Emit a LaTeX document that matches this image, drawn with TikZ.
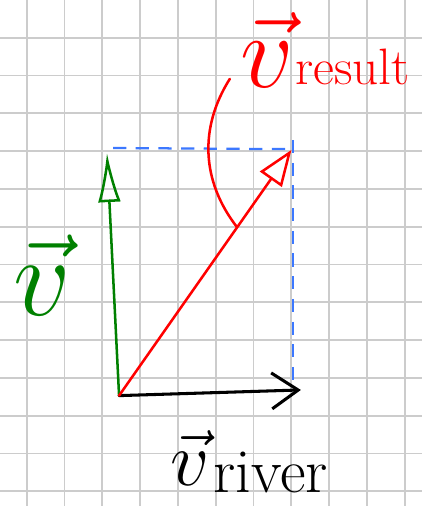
\documentclass[tikz,border=0pt]{standalone}
\usepackage{xcolor}
\usetikzlibrary{arrows.meta,calc}
\definecolor{penred}{RGB}{255,0,0}
\definecolor{pengreen}{RGB}{0,128,0}
\definecolor{penblue}{RGB}{60,120,255}
\definecolor{gridgray}{RGB}{204,204,204}
\tikzset{
  gridline/.style={draw=gridgray, line width=1.4pt},
  vecline/.style={line width=1.9pt, line cap=round},
  helpline/.style={draw=penblue, line width=1.7pt, dash pattern=on 0.35cm off 0.25cm},
  lbl/.style={inner sep=0pt, anchor=base west, font=\Huge, transform shape}
}
\begin{document}
\begin{tikzpicture}
    \useasboundingbox (0,0) rectangle (11.164,13.386);
    % grid paper
    \foreach \x in {0,...,10}
        \draw[gridline] (0.706+\x,0) -- (0.706+\x,13.386);
    \foreach \y in {0,...,12}
        \draw[gridline] (0,0.389+\y) -- (11.164,0.389+\y);

    % points
    \coordinate (O) at (3.15,2.92);
    \coordinate (V) at (2.83,9.34);
    \coordinate (R) at (7.96,3.07);
    \coordinate (T) at (7.71,9.42);
    \coordinate (hl) at (2.99,9.47);
    \coordinate (hr) at (7.75,9.44);
    \coordinate (vt) at (7.75,9.68);
    \coordinate (vb) at (7.75,3.33);

    % helper lines
    \draw[helpline] (hl) -- (hr);
    \draw[helpline] (vt) -- (vb);

    % vectors
    \draw[vecline, pengreen, -{Latex[open,length=1.3cm,width=0.6cm]}] (O) -- (V);
    \draw[vecline, black, line width=2.3pt, -{Straight Barb[length=0.7cm,width=0.95cm]}] (O) -- (R);
    \draw[vecline, penred, -{Triangle[open,length=0.95cm,width=0.7cm]}] (O) -- (T);

    % labels
    \node[lbl, text=penred, scale=3.18] (vres) at (6.35,11.06) {$\vec{v}$};
    \node[lbl, text=penred, scale=1.55] (res) at (7.80,11.14) {result};
    \node[lbl, text=pengreen, scale=3.42] (vboat) at (0.32,5.05) {$\vec{v}$};
    \node[lbl, scale=2.33] (vriv) at (4.50,0.53) {$\vec{v}$};
    \node[lbl, scale=1.9] (riv) at (5.63,0.37) {river};

    % pointer from label to red vector
    \coordinate (pstart) at (6.08,11.30);
    \coordinate (pend) at ($(O)!0.685!(T)$);
    \draw[vecline, penred] (pstart) to[bend right=35] (pend);
\end{tikzpicture}
\end{document}
